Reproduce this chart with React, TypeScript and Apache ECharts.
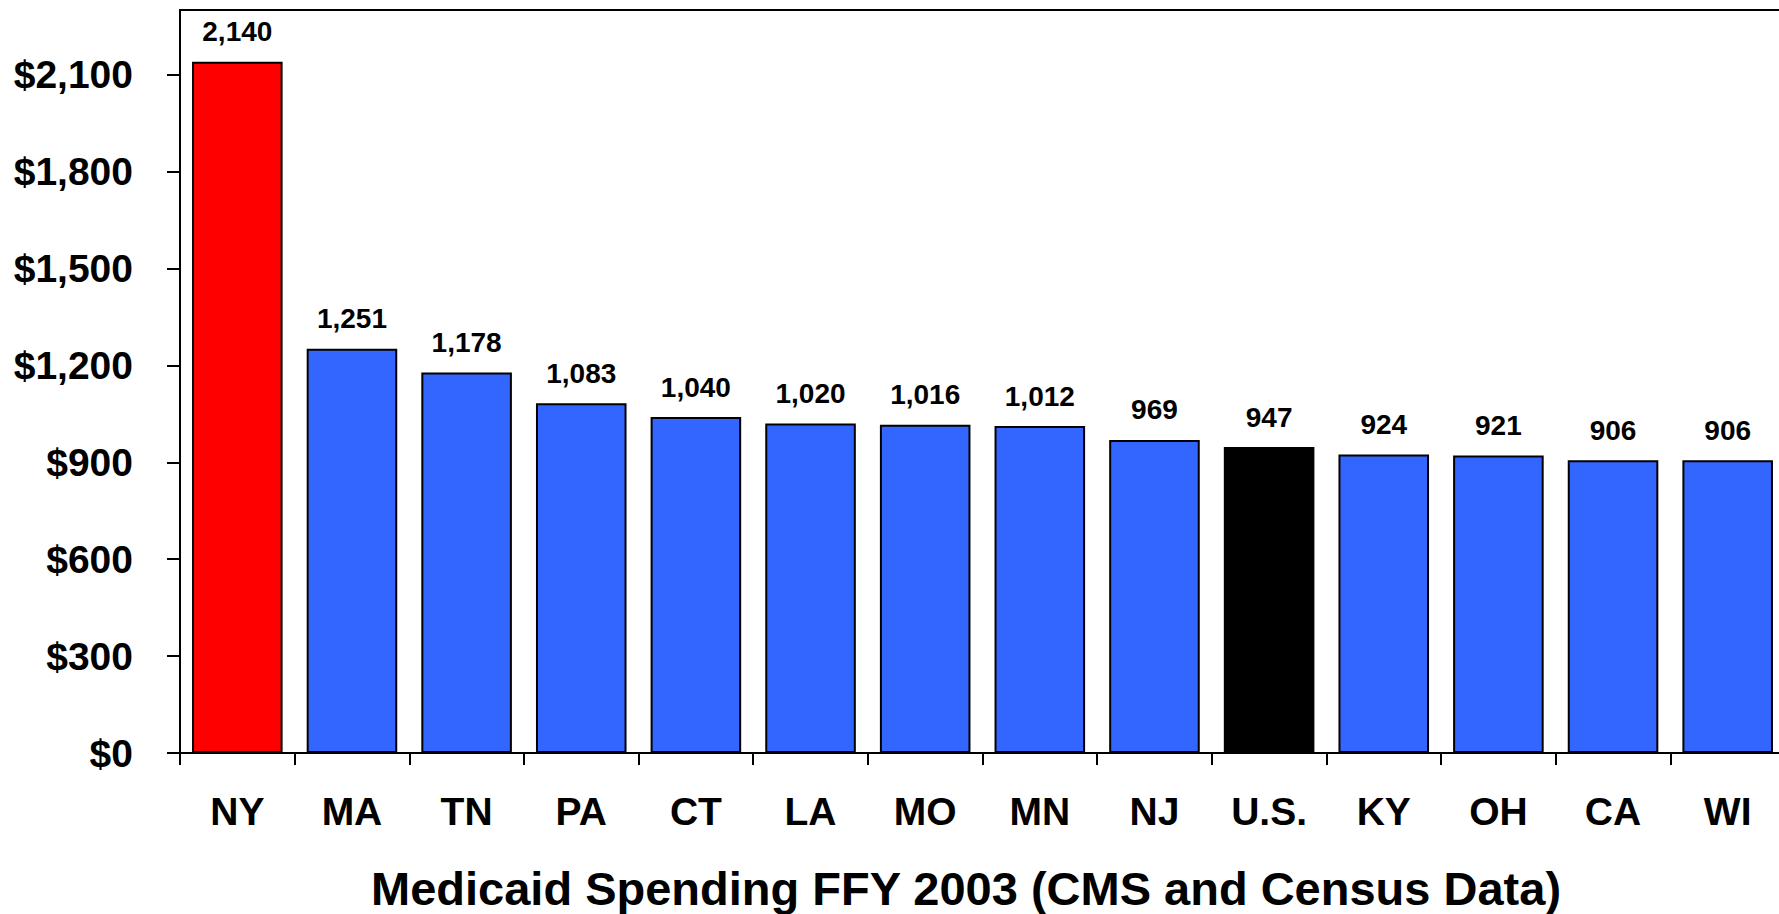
import React, { useEffect, useRef } from "react";
import * as echarts from "echarts";

const categories = ["NY", "MA", "TN", "PA", "CT", "LA", "MO", "MN", "NJ", "U.S.", "KY", "OH", "CA", "WI"];
const spending = [2140, 1251, 1178, 1083, 1040, 1020, 1016, 1012, 969, 947, 924, 921, 906, 906];
const barColors = ["#FF0000", "#3366FF", "#3366FF", "#3366FF", "#3366FF", "#3366FF", "#3366FF", "#3366FF", "#3366FF", "#000000", "#3366FF", "#3366FF", "#3366FF", "#3366FF"];
const yTicks = [0, 300, 600, 900, 1200, 1500, 1800, 2100];
const chartTitle = "Medicaid Spending FFY 2003 (CMS and Census Data)";

const FONT = "Arial, 'Liberation Sans', sans-serif";

export default function App() {
  const ref = useRef<HTMLDivElement>(null);
  useEffect(() => {
    if (!ref.current) return;
    const chart = echarts.init(ref.current, undefined, { renderer: "svg" });
    chart.setOption({
      animation: false,
      backgroundColor: "#FFFFFF",
      title: {
        text: chartTitle,
        left: 371,
        top: 865,
        padding: 0,
        textStyle: { fontFamily: FONT, fontSize: 47, fontWeight: "bold", color: "#000", lineHeight: 47 },
      },
      grid: {
        left: 180,
        right: 0,
        top: 10,
        bottom: 161,
        show: true,
        borderColor: "#000",
        borderWidth: 2,
        backgroundColor: "transparent",
      },
      xAxis: {
        type: "category",
        data: categories,
        axisLine: { show: true, lineStyle: { color: "#000", width: 2 } },
        axisTick: { show: true, length: 12, lineStyle: { color: "#000", width: 2 } },
        axisLabel: {
          margin: 39,
          fontFamily: FONT,
          fontSize: 39,
          fontWeight: "bold",
          color: "#000",
          lineHeight: 39,
          interval: 0,
        },
        splitLine: { show: false },
      },
      yAxis: {
        type: "value",
        min: 0,
        max: 2300,
        interval: 300,
        axisLine: { show: true, lineStyle: { color: "#000", width: 2 } },
        axisTick: { show: true, length: 13, lineStyle: { color: "#000", width: 2 }, customValues: yTicks },
        axisLabel: {
          margin: 47,
          fontFamily: FONT,
          fontSize: 39,
          fontWeight: "bold",
          color: "#000",
          customValues: yTicks,
          formatter: (v: number) => (v % 300 === 0 && v <= 2100 ? "$" + v.toLocaleString("en-US") : ""),
        },
        splitLine: { show: false },
      },
      series: [
        {
          type: "bar",
          data: spending.map((v, i) => ({ value: v, itemStyle: { color: barColors[i] } })),
          barCategoryGap: "21%",
          itemStyle: { borderColor: "#000", borderWidth: 2 },
          label: {
            show: true,
            position: "top",
            distance: 16,
            fontFamily: FONT,
            fontSize: 28,
            fontWeight: "bold",
            color: "#000",
            formatter: (p: any) => Number(p.value).toLocaleString("en-US"),
          },
        },
      ],
    });
    return () => chart.dispose();
  }, []);
  return (
    <div
      style={{ position: "fixed", left: 0, top: 0, width: 1779, height: 914, overflow: "hidden", background: "#fff" }}
    >
      <div ref={ref} style={{ width: 1785, height: 914 }} />
    </div>
  );
}
